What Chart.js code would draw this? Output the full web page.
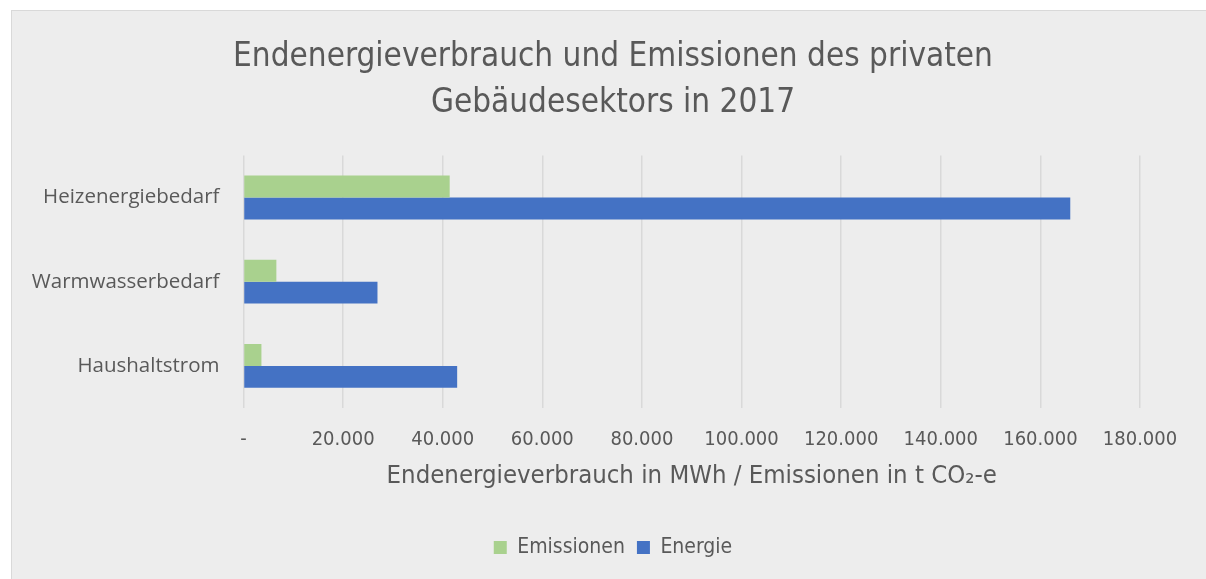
<!DOCTYPE html>
<html>
<head>
<meta charset="utf-8">
<script src="https://cdn.jsdelivr.net/npm/chart.js@4"></script>
<style>
  html, body { margin: 0; padding: 0; background: #ffffff; overflow: hidden; }
  #box { position: absolute; left: 11px; top: 10px; width: 1210px; height: 590px;
         background: #ededed; border: 1px solid #d9d9d9; }
  #wrap { position: absolute; left: 0; top: 0; width: 1206px; height: 579px; }
</style>
</head>
<body>
<div id="box"></div>
<div id="wrap"><canvas id="chart" width="1206" height="579"></canvas></div>
<script>
// Endenergieverbrauch / Emissionen – private Gebäude 2017

const categories = ['Heizenergiebedarf', 'Warmwasserbedarf', 'Haushaltstrom'];
const emissionen = [41400, 6600, 3600];
const energie = [166000, 26900, 42900];
const titleLines = ['Endenergieverbrauch und Emissionen des privaten', 'Gebäudesektors in 2017'];
const axisTitle = 'Endenergieverbrauch in MWh / Emissionen in t CO₂-e';

const narrow = '"Liberation Sans Narrow", "DejaVu Sans Condensed", "Open Sans", sans-serif';
const textColor = '#595959';

function formatDE(v) {
	if (v === 0) return '-';
	return String(v).replace(/\B(?=(\d{3})+(?!\d))/g, '.');
}

const ctx = document.getElementById('chart').getContext('2d');

const myChart = new Chart(ctx, {
	type: 'bar',
	data: {
		labels: categories,
		datasets: [{
			label: 'Emissionen',
			data: emissionen,
			backgroundColor: '#a9d18e',
			categoryPercentage: 0.52,
			barPercentage: 1
		}, {
			label: 'Energie',
			data: energie,
			backgroundColor: '#4472c4',
			categoryPercentage: 0.52,
			barPercentage: 1
		}]
	},
	options: {
		indexAxis: 'y',
		responsive: false,
		animation: false,
		layout: {
			padding: { left: 20, right: 0, top: 0, bottom: 11 }
		},
		plugins: {
			title: {
				display: true,
				text: titleLines,
				color: textColor,
				font: { family: narrow, size: 33, weight: 'normal', lineHeight: 1.4 },
				padding: { top: 34, bottom: 29 }
			},
			legend: {
				position: 'bottom',
				labels: {
					color: textColor,
					font: { family: narrow, size: 21 },
					boxWidth: 13,
					boxHeight: 13,
					padding: 12
				}
			},
			tooltip: { enabled: false }
		},
		scales: {
			x: {
				min: 0,
				max: 180000,
				ticks: {
					stepSize: 20000,
					color: textColor,
					font: { family: narrow, size: 20 },
					padding: 20,
					maxRotation: 0,
					callback: (v) => formatDE(v)
				},
				grid: {
					color: '#d9d9d9',
					lineWidth: 1.5,
					drawTicks: false
				},
				border: { display: false },
				title: {
					display: true,
					text: axisTitle,
					color: textColor,
					font: { family: narrow, size: 25.5 },
					padding: { top: 12, bottom: 33 }
				},
				afterFit: (scale) => { scale.height = 117; }
			},
			y: {
				ticks: {
					color: textColor,
					font: { family: '"Open Sans", sans-serif', size: 20.5 },
					padding: 16
				},
				grid: { display: false },
				border: { display: false },
				afterFit: (scale) => { scale.width = 243.5 - 20; }
			},
			// empty right-hand axis: keeps the plot's right edge where the reference has it
			yRight: {
				type: 'category',
				position: 'right',
				ticks: { display: false },
				grid: { display: false },
				border: { display: false },
				afterFit: (scale) => { scale.width = 66; }
			}
		}
	}
});
</script>
</body>
</html>
